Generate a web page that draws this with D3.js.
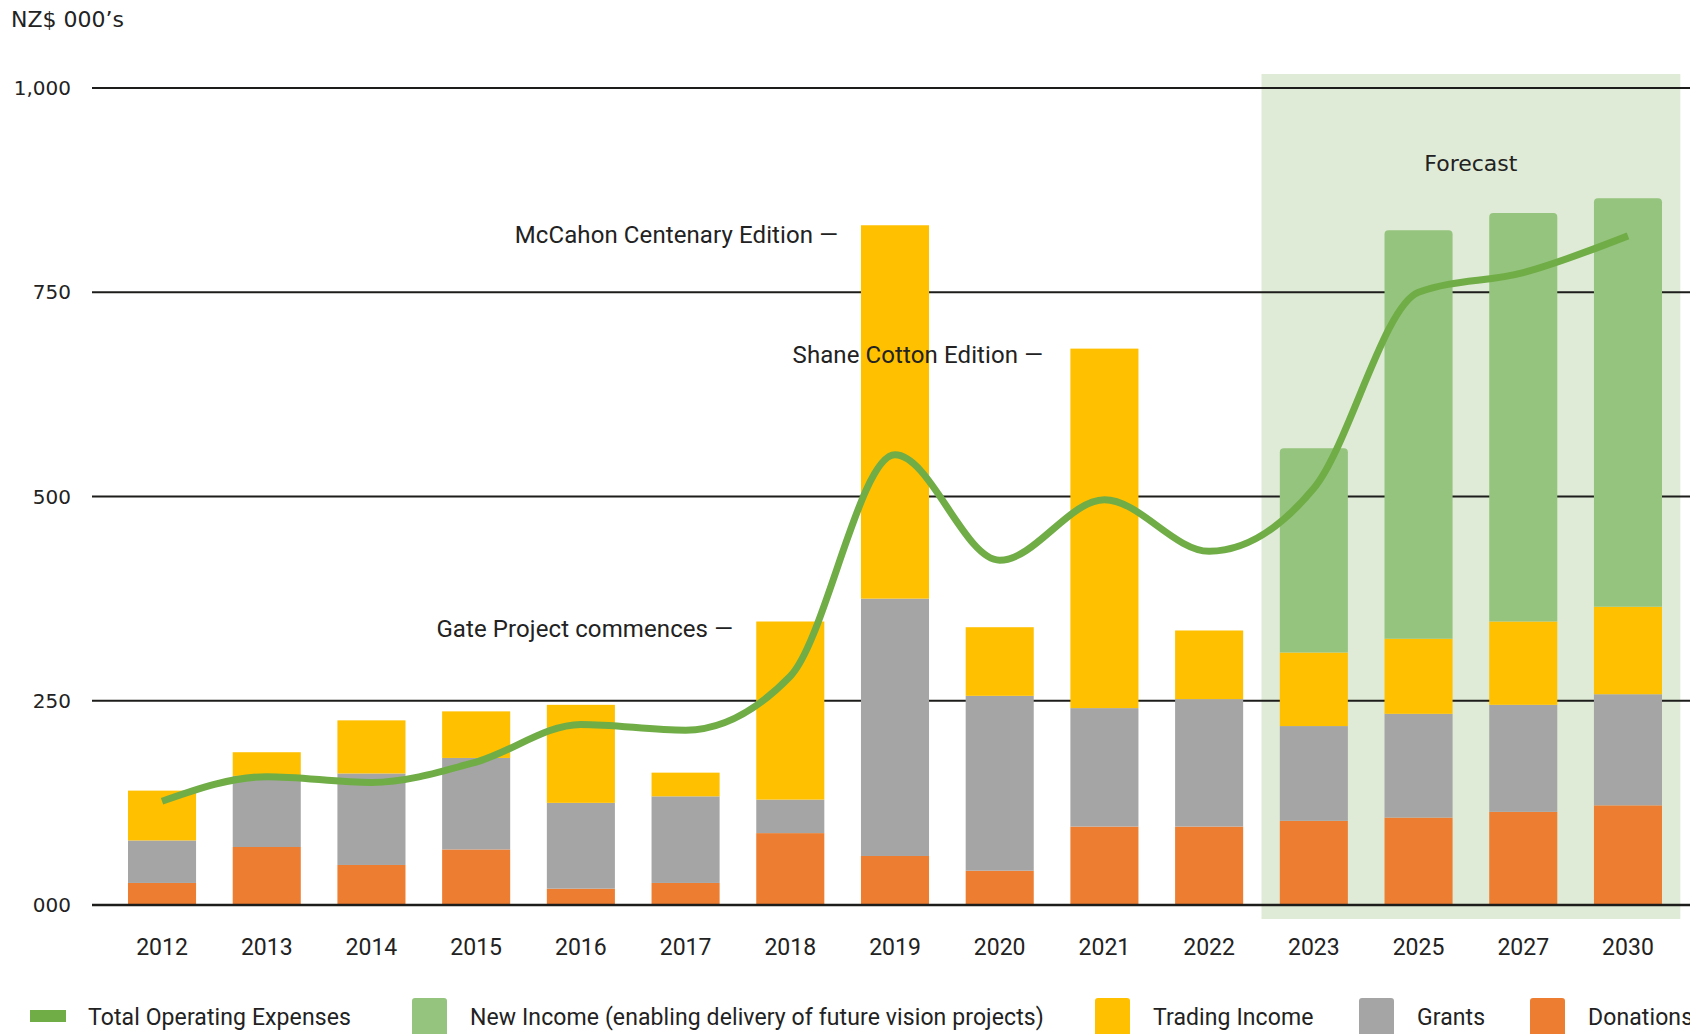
<!DOCTYPE html>
<html>
<head>
<meta charset="utf-8">
<script src="https://cdn.jsdelivr.net/npm/d3@7"></script>
<style>
  body { margin: 0; background: #fff; }
  svg { display: block; }
</style>
</head>
<body>
<div id="chart"></div>
<script>
// data (NZ$ 000's)
const years = ["2012", "2013", "2014", "2015", "2016", "2017", "2018", "2019", "2020", "2021", "2022", "2023", "2025", "2027", "2030"];
const donations = [27, 71, 49, 68, 20, 27, 88, 60, 42, 96, 96, 103, 107, 114, 122];
const grants = [52, 87, 112, 112, 105, 106, 41, 315, 214, 145, 156, 116, 127, 131, 136];
const trading = [61, 29, 65, 57, 120, 29, 218, 457, 84, 440, 84, 90, 92, 102, 107];
const newIncome = [0, 0, 0, 0, 0, 0, 0, 0, 0, 0, 0, 250, 500, 500, 500];
const totalExpenses = [127, 157, 150, 175, 221, 214, 280, 551, 422, 496, 433, 510, 750, 774, 819];
const forecastYears = ["2023", "2025", "2027", "2030"];
const yTicks = [0, 250, 500, 750, 1000];
const yTickLabels = ["000", "250", "500", "750", "1,000"];

const annotations = [
    { text: "McCahon Centenary Edition \u2014", x: 838, y: 235 },
    { text: "Shane Cotton Edition \u2014", x: 1043, y: 355 },
    { text: "Gate Project commences \u2014", x: 733, y: 629 }
];

const keys = ["donations", "grants", "trading", "newIncome"];
const colors = {
    donations: "#ed7d31",
    grants: "#a5a5a5",
    trading: "#ffc000",
    newIncome: "#95c47e",
    line: "#70ad47"
};

const width = 1690, height = 1034;
const textFont = "Roboto, 'Liberation Sans', sans-serif";
const wideFont = "'DejaVu Sans', sans-serif";

const svg = d3.select("#chart").append("svg")
    .attr("width", width)
    .attr("height", height);

const rows = years.map((yr, i) => ({
    year: yr,
    donations: donations[i],
    grants: grants[i],
    trading: trading[i],
    newIncome: newIncome[i]
}));

const x = d3.scaleBand()
    .domain(years)
    .range([128, 1662])
    .paddingInner(0.35)
    .paddingOuter(0);

const y = d3.scaleLinear()
    .domain([0, 1000])
    .range([905, 88]);

const bw = x.bandwidth();
const gap = x.step() * x.paddingInner() / 2;

// forecast shading
const fx0 = x(forecastYears[0]) - gap;
const fx1 = x(forecastYears[forecastYears.length - 1]) + bw + gap;
svg.append("rect")
    .attr("x", fx0)
    .attr("y", y(1000) - 14)
    .attr("width", fx1 - fx0)
    .attr("height", y(0) - y(1000) + 28)
    .attr("fill", "#dfebd6");

svg.append("text")
    .attr("x", (fx0 + fx1) / 2)
    .attr("y", 163)
    .attr("dy", "0.35em")
    .attr("text-anchor", "middle")
    .attr("font-family", wideFont)
    .attr("font-size", 22)
    .attr("fill", "#222")
    .text("Forecast");

// gridlines
svg.append("g")
    .selectAll("line")
    .data(yTicks.filter(d => d > 0))
    .join("line")
    .attr("x1", 92)
    .attr("x2", width)
    .attr("y1", d => y(d))
    .attr("y2", d => y(d))
    .attr("stroke", "#1d1d1b")
    .attr("stroke-width", 2);

// y tick labels
svg.append("g")
    .selectAll("text")
    .data(yTicks)
    .join("text")
    .attr("x", 71)
    .attr("y", d => y(d))
    .attr("dy", "0.35em")
    .attr("text-anchor", "end")
    .attr("font-family", wideFont)
    .attr("font-size", 20)
    .attr("fill", "#222")
    .text((d, i) => yTickLabels[i]);

svg.append("text")
    .attr("x", 11)
    .attr("y", 19)
    .attr("dy", "0.35em")
    .attr("font-family", wideFont)
    .attr("font-size", 22)
    .attr("fill", "#222")
    .text("NZ$ 000\u2019s");

// stacked bars
const series = d3.stack().keys(keys)(rows);

// top corners rounded only (new income bars)
function roundedTop(x0, y0, w, h, r) {
    return `M${x0},${y0 + h}V${y0 + r}Q${x0},${y0} ${x0 + r},${y0}H${x0 + w - r}Q${x0 + w},${y0} ${x0 + w},${y0 + r}V${y0 + h}Z`;
}

const barG = svg.append("g");
series.forEach(s => {
    const layer = barG.append("g").attr("fill", colors[s.key]);
    const segs = s.filter(d => d[1] - d[0] > 0);
    if (s.key === "newIncome") {
        layer.selectAll("path")
            .data(segs)
            .join("path")
            .attr("d", d => roundedTop(x(d.data.year), y(d[1]), bw, y(d[0]) - y(d[1]), 4));
    } else {
        layer.selectAll("rect")
            .data(segs)
            .join("rect")
            .attr("x", d => x(d.data.year))
            .attr("y", d => y(d[1]))
            .attr("width", bw)
            .attr("height", d => y(d[0]) - y(d[1]));
    }
});

// zero line
svg.append("line")
    .attr("x1", 92)
    .attr("x2", width)
    .attr("y1", y(0))
    .attr("y2", y(0))
    .attr("stroke", "#1d1d1b")
    .attr("stroke-width", 2.5);

// x labels
svg.append("g")
    .selectAll("text")
    .data(years)
    .join("text")
    .attr("x", d => x(d) + bw / 2)
    .attr("y", 947)
    .attr("dy", "0.35em")
    .attr("text-anchor", "middle")
    .attr("font-family", textFont)
    .attr("font-size", 23)
    .attr("fill", "#222")
    .text(d => d);

// total operating expenses line
const line = d3.line()
    .x((d, i) => x(years[i]) + bw / 2)
    .y(d => y(d))
    .curve(d3.curveMonotoneX);

svg.append("path")
    .datum(totalExpenses)
    .attr("d", line)
    .attr("fill", "none")
    .attr("stroke", colors.line)
    .attr("stroke-width", 7);

// annotations
svg.append("g")
    .selectAll("text")
    .data(annotations)
    .join("text")
    .attr("x", d => d.x)
    .attr("y", d => d.y)
    .attr("dy", "0.35em")
    .attr("text-anchor", "end")
    .attr("font-family", textFont)
    .attr("font-size", 24)
    .attr("letter-spacing", 0.1)
    .attr("fill", "#222")
    .text(d => d.text);

// legend
const legendItems = [
    { label: "Total Operating Expenses", color: colors.line, type: "line", x: 30 },
    { label: "New Income (enabling delivery of future vision projects)", color: colors.newIncome, type: "box", x: 412 },
    { label: "Trading Income", color: colors.trading, type: "box", x: 1095 },
    { label: "Grants", color: colors.grants, type: "box", x: 1359 },
    { label: "Donations", color: colors.donations, type: "box", x: 1530 }
];

const legend = svg.append("g");
legendItems.forEach(item => {
    if (item.type === "line") {
        legend.append("rect")
            .attr("x", item.x).attr("y", 1010)
            .attr("width", 36).attr("height", 12)
            .attr("fill", item.color);
    } else {
        legend.append("rect")
            .attr("x", item.x).attr("y", 998)
            .attr("width", 35).attr("height", 42)
            .attr("rx", 3)
            .attr("fill", item.color);
    }
    legend.append("text")
        .attr("x", item.x + 58)
        .attr("y", 1017)
        .attr("dy", "0.35em")
        .attr("font-family", textFont)
        .attr("font-size", 23)
        .attr("letter-spacing", 0.1)
        .attr("fill", "#222")
        .text(item.label);
});
</script>
</body>
</html>
